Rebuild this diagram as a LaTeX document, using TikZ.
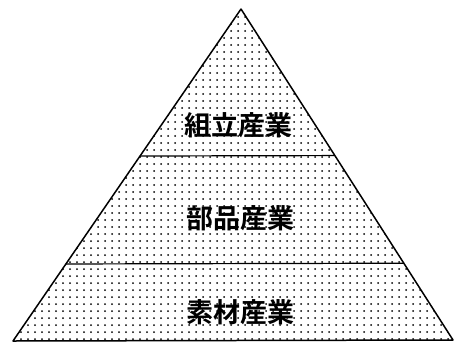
\documentclass[tikz,border=0pt]{standalone}
\usepackage{fontspec}
\newfontfamily\jpfont{Noto Sans CJK JP}[BoldFont={Noto Sans CJK JP Bold}]
\usetikzlibrary{patterns.meta,calc}
\tikzset{
  outline/.style={draw=black, line width=1.5pt, line join=round},
  dotfill/.style={pattern={Dots[distance=7pt, radius=1pt]}, pattern color=black},
  divider/.style={draw=black, line width=1.2pt},
  label/.style={font=\jpfont\bfseries\fontsize{27}{27}\selectfont, inner sep=0pt}
}
\begin{document}
\begin{tikzpicture}[x=1pt, y=-1pt]
\useasboundingbox (0,0) rectangle (455,346);
\coordinate (apex) at (241,9);
\coordinate (bl) at (13,341);
\coordinate (br) at (453,340);
\fill[dotfill] (apex) -- (br) -- (bl) -- cycle;
\coordinate (l1) at ($(apex)!0.4428!(bl)$);
\coordinate (r1) at ($(apex)!0.4428!(br)$);
\coordinate (l2) at ($(apex)!0.768!(bl)$);
\coordinate (r2) at ($(apex)!0.768!(br)$);
\draw[divider] (l1) -- (r1);
\draw[divider] (l2) -- (r2);
\draw[outline] (apex) -- (br) -- (bl) -- cycle;
\node[label] (top) at (238,125) {組立産業};
\node[label] (mid) at (240,218) {部品産業};
\node[label] (bot) at (240,312) {素材産業};
\end{tikzpicture}
\end{document}
